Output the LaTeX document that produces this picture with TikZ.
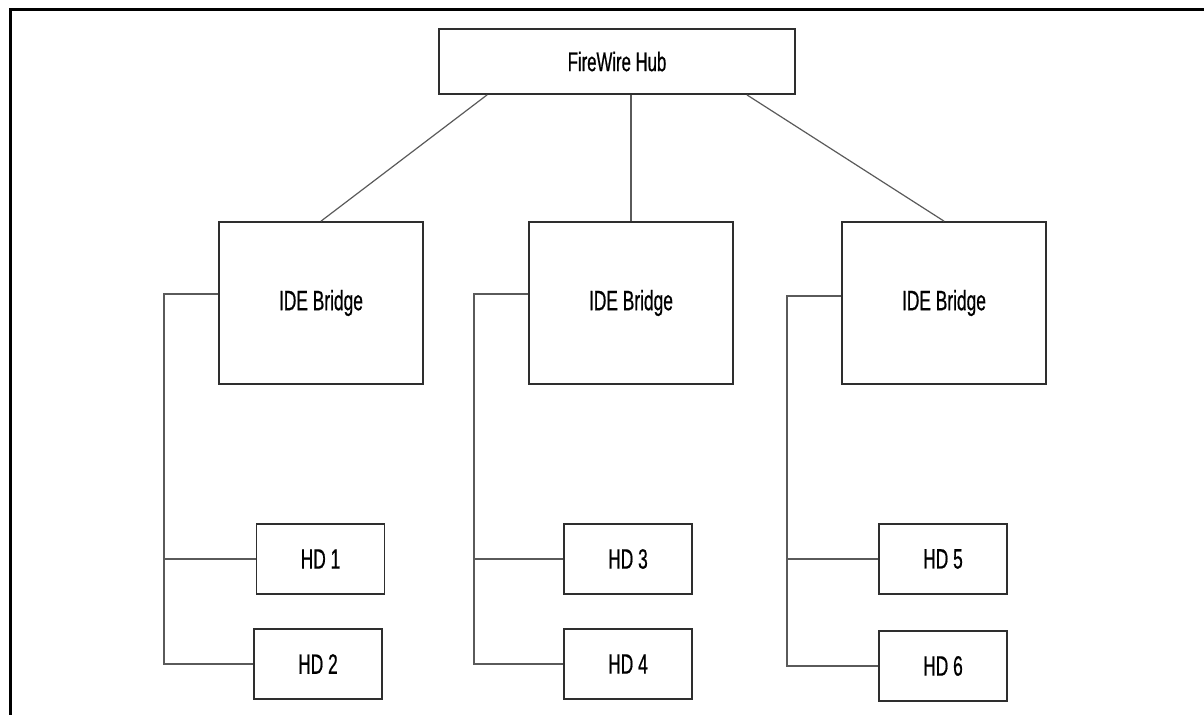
\documentclass[tikz,border=0pt]{standalone}
\usepackage{fontspec}
\setmainfont[FakeStretch=0.62, FakeBold=0.6]{Liberation Sans}
\usepackage{tikz}
\usetikzlibrary{positioning,calc}
\definecolor{BoxLine}{HTML}{2E2E2E}
\definecolor{WireGray}{HTML}{5A5A5A}

\begin{document}
\begin{tikzpicture}[x=0.5pt, y=-0.5pt]
\tikzset{hubbox/.style={draw=BoxLine, line width=0.85pt, fill=white, align=center, minimum width=178pt, minimum height=32.5pt, inner sep=0pt, font=\fontsize{13.5}{15}\selectfont}, bridgebox/.style={draw=BoxLine, line width=0.85pt, fill=white, align=center, minimum width=102pt, minimum height=81pt, inner sep=0pt, font=\fontsize{14}{16}\selectfont}, diskbox/.style={draw=BoxLine, line width=0.85pt, fill=white, align=center, minimum width=64pt, minimum height=35pt, inner sep=0pt, font=\fontsize{14}{16}\selectfont}, wire/.style={draw=WireGray, line width=0.6pt}}
\useasboundingbox (0,0) rectangle (1204,715);
% frame
\draw[line width=1.5pt] (10,715) -- (10,9.5) -- (1204,9.5);
\node[hubbox] (hub) at (617,61.5) {FireWire Hub};
\node[bridgebox] (bridgeA) at (321,303) {IDE Bridge};
\node[bridgebox] (bridgeB) at (631,303) {IDE Bridge};
\node[bridgebox] (bridgeC) at (944,303) {IDE Bridge};
\node[diskbox] (hd1) at (320.5,559) {HD 1};
\node[diskbox] (hd2) at (318,664) {HD 2};
\node[diskbox] (hd3) at (628,559) {HD 3};
\node[diskbox] (hd4) at (628,664) {HD 4};
\node[diskbox] (hd5) at (943,559) {HD 5};
\node[diskbox] (hd6) at (943,666) {HD 6};
\coordinate (busA) at (164,294);
\coordinate (busB) at (474,294);
\coordinate (busC) at (787,296);
% hub to bridges
\draw[wire] ($(hub.south west)+(49,0)$) -- (bridgeA.north); \draw[wire] (bridgeB.north |- hub.south) -- (bridgeB.north); \draw[wire] ($(hub.south east)+(-49,0)$) -- (bridgeC.north);
% bridges to disks
\draw[wire] (bridgeA.west |- busA) -- (busA) |- (hd2.west); \draw[wire] (busA |- hd1.west) -- (hd1.west);
\draw[wire] (bridgeB.west |- busB) -- (busB) |- (hd4.west); \draw[wire] (busB |- hd3.west) -- (hd3.west);
\draw[wire] (bridgeC.west |- busC) -- (busC) |- (hd6.west); \draw[wire] (busC |- hd5.west) -- (hd5.west);
\end{tikzpicture}
\end{document}
